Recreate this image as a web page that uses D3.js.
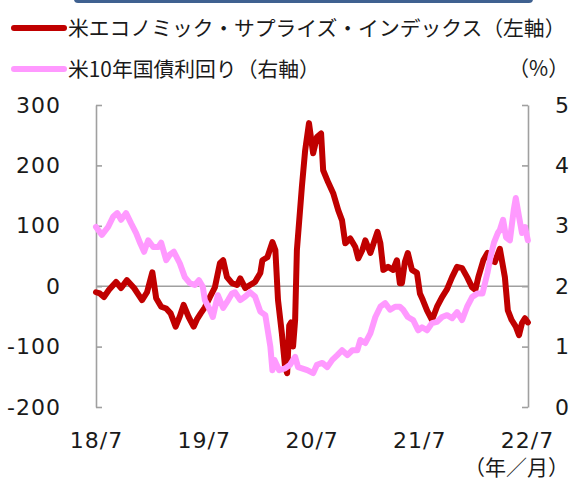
<!DOCTYPE html>
<html>
<head>
<meta charset="utf-8">
<script src="https://cdn.jsdelivr.net/npm/d3@7"></script>
<style>
  body { margin: 0; background: #fff; }
  svg text { fill: #1a1a1a; }
  .num { font-family: "DejaVu Sans", Verdana, sans-serif; font-size: 22px; letter-spacing: 1px; }
  .jp { font-family: "Noto Sans CJK JP", sans-serif; font-size: 20.8px; }
</style>
</head>
<body>
<div id="chart"></div>
<script>
// data
var redDates = [
  "2018-07-01","2018-07-14","2018-07-28","2018-08-14","2018-09-07","2018-09-24","2018-10-14","2018-11-07","2018-12-04","2018-12-21",
  "2019-01-08","2019-01-21","2019-02-07","2019-02-24","2019-03-11","2019-03-28","2019-04-11","2019-04-24","2019-05-11","2019-05-28",
  "2019-06-08","2019-06-21","2019-07-05","2019-07-22","2019-08-08","2019-08-25","2019-09-05","2019-09-18","2019-10-05","2019-10-22",
  "2019-11-02","2019-11-19","2019-12-05","2019-12-22","2020-01-09","2020-01-16","2020-02-02","2020-02-19","2020-02-29","2020-03-09",
  "2020-03-22","2020-04-02","2020-04-09","2020-04-16","2020-04-22","2020-04-29","2020-05-06","2020-05-12","2020-05-29","2020-06-09",
  "2020-06-22","2020-07-06","2020-07-19","2020-08-02","2020-08-09","2020-08-26","2020-09-12","2020-09-29","2020-10-12","2020-10-23",
  "2020-11-09","2020-11-26","2020-12-06","2020-12-20","2020-12-30","2021-01-16","2021-02-09","2021-02-19","2021-03-01","2021-03-17",
  "2021-04-03","2021-04-16","2021-04-26","2021-05-03","2021-05-13","2021-05-23","2021-06-06","2021-06-23","2021-07-03","2021-07-13",
  "2021-07-27","2021-08-13","2021-08-30","2021-09-16","2021-10-03","2021-10-20","2021-11-06","2021-11-23","2021-12-10","2021-12-27",
  "2022-01-07","2022-01-17","2022-02-03","2022-02-17","2022-02-27","2022-03-14","2022-03-31","2022-04-17","2022-04-27","2022-05-10",
  "2022-05-24","2022-06-04","2022-06-14","2022-06-24","2022-07-04"
];
var redValues = [
  -10, -12, -18, -6, 7, -3, 10, -3, -23, -10,
  23, -20, -34, -37, -45, -67, -50, -31, -51, -67,
  -55, -45, -35, -18, -2, 38, 43, 15, 5, 2,
  13, -3, 2, 7, 22, 43, 48, 73, 60, -23,
  -78, -134, -144, -65, -60, -100, -56, 60, 165, 225,
  270, 220, 247, 253, 192, 172, 154, 126, 109, 71,
  79, 65, 46, 60, 76, 55, 90, 71, 27, 32,
  27, 43, 5, 5, 40, 55, 27, 22, -12, -23,
  -40, -56, -34, -18, -5, 15, 32, 30, 15, -2,
  -6, 15, 43, 55, 43, 40, 62, 15, -40, -56,
  -67, -81, -61, -53, -60
];

var pinkDates = [
  "2018-07-01","2018-07-21","2018-08-11","2018-08-28","2018-09-11","2018-09-24","2018-10-11","2018-10-28","2018-11-14","2018-11-28",
  "2018-12-11","2018-12-25","2019-01-11","2019-01-28","2019-02-07","2019-02-24","2019-03-08","2019-03-22","2019-04-11","2019-04-28",
  "2019-05-15","2019-06-01","2019-06-15","2019-06-28","2019-07-05","2019-07-22","2019-08-01","2019-08-18","2019-09-05","2019-09-22",
  "2019-10-05","2019-10-15","2019-11-02","2019-11-19","2019-12-05","2019-12-22","2020-01-09","2020-01-26","2020-02-12","2020-02-19",
  "2020-02-26","2020-03-13","2020-04-02","2020-04-19","2020-05-06","2020-05-16","2020-05-29","2020-06-16","2020-07-06","2020-07-19",
  "2020-08-06","2020-08-23","2020-09-09","2020-09-26","2020-10-12","2020-10-30","2020-11-16","2020-12-03","2020-12-13","2020-12-30",
  "2021-01-16","2021-02-02","2021-02-19","2021-03-07","2021-03-24","2021-04-10","2021-04-26","2021-05-07","2021-05-23","2021-06-10",
  "2021-06-27","2021-07-10","2021-07-27","2021-08-13","2021-08-30","2021-09-16","2021-10-03","2021-10-20","2021-11-06","2021-11-23",
  "2021-12-10","2021-12-27","2022-01-14","2022-01-31","2022-02-17","2022-02-27","2022-03-11","2022-03-24","2022-03-31","2022-04-11",
  "2022-04-21","2022-05-04","2022-05-17","2022-05-24","2022-06-04","2022-06-14","2022-06-24","2022-07-04"
];
var pinkValues = [
  2.98, 2.85, 2.98, 3.15, 3.21, 3.10, 3.21, 3.04, 2.88, 2.71,
  2.57, 2.76, 2.65, 2.65, 2.72, 2.43, 2.52, 2.57, 2.38, 2.15,
  2.05, 2.02, 2.10, 1.99, 1.77, 1.61, 1.49, 1.85, 1.64, 1.77,
  1.88, 1.90, 1.77, 1.83, 1.90, 1.83, 1.58, 1.52, 1.00, 0.61,
  0.78, 0.61, 0.64, 0.70, 0.83, 0.66, 0.64, 0.61, 0.56, 0.70,
  0.73, 0.66, 0.78, 0.86, 0.94, 0.86, 0.94, 0.94, 1.11, 1.06,
  1.22, 1.49, 1.66, 1.72, 1.61, 1.66, 1.66, 1.61, 1.49, 1.44,
  1.27, 1.32, 1.27, 1.39, 1.41, 1.49, 1.52, 1.47, 1.57, 1.44,
  1.66, 1.82, 1.88, 1.88, 2.22, 2.48, 2.72, 2.88, 2.93, 3.10,
  2.81, 2.76, 3.26, 3.46, 3.15, 2.88, 2.98, 2.76
];

var xTicks = ["2018-07-01","2019-07-01","2020-07-01","2021-07-01","2022-07-01"];
var leftTicks = [-200, -100, 0, 100, 200, 300];
var rightTicks = [0, 1, 2, 3, 4, 5];

var legendLabels = ["米エコノミック・サプライズ・インデックス（左軸）", "米10年国債利回り（右軸）"];
var colors = ["#c00000", "#ff99ff"];

var w = 570, h = 488;
var parse = d3.timeParse("%Y-%m-%d");

var svg = d3.select("#chart").append("svg")
  .attr("width", w)
  .attr("height", h);

// cut-off title box at the top
svg.append("rect")
  .attr("x", 74).attr("y", -12)
  .attr("width", 459).attr("height", 15)
  .attr("rx", 4)
  .attr("fill", "#3f6190");

var x = d3.scaleTime()
  .domain([parse("2018-07-01"), parse("2022-07-01")])
  .range([96, 527]);
var yL = d3.scaleLinear().domain([-200, 300]).range([407, 105]);
var yR = d3.scaleLinear().domain([0, 5]).range([407, 105]);

var axisColor = "#a0a0a0";
var plain = function(d) { return String(d); };   // ascii hyphen, not U+2212

// left axis, ticks pointing inward
var gL = svg.append("g")
  .attr("transform", "translate(96,0)")
  .call(d3.axisLeft(yL).tickValues(leftTicks).tickFormat(plain).tickSizeInner(-6).tickSizeOuter(0).tickPadding(35));

var gR = svg.append("g")
  .attr("transform", "translate(528,0)")
  .call(d3.axisRight(yR).tickValues(rightTicks).tickFormat(plain).tickSizeInner(-6).tickSizeOuter(0).tickPadding(27));

[gL, gR].forEach(function(g) {
  g.attr("font-size", null).attr("font-family", null);
  g.selectAll("text").attr("class", "num");
  g.selectAll("line, path").attr("stroke", axisColor).attr("stroke-width", 1.6);
});

// zero line
svg.append("line")
  .attr("x1", 96).attr("x2", 528)
  .attr("y1", yL(0)).attr("y2", yL(0))
  .attr("stroke", axisColor)
  .attr("stroke-width", 1.6);

// x labels
var gX = svg.append("g")
  .attr("transform", "translate(0,407)")
  .call(d3.axisBottom(x).tickValues(xTicks.map(parse)).tickFormat(d3.timeFormat("%y/%-m")).tickSize(0).tickPadding(25));
gX.select(".domain").remove();
gX.attr("font-size", null).attr("font-family", null);
gX.selectAll("text").attr("class", "num");

var lineL = d3.line()
  .x(function(d) { return x(d.date); })
  .y(function(d) { return yL(d.value); });
var lineR = d3.line()
  .x(function(d) { return x(d.date); })
  .y(function(d) { return yR(d.value); });

var redData = redDates.map(function(d, i) { return {date: parse(d), value: redValues[i]}; });
var pinkData = pinkDates.map(function(d, i) { return {date: parse(d), value: pinkValues[i]}; });

svg.append("path")
  .datum(redData)
  .attr("d", lineL)
  .attr("fill", "none")
  .attr("stroke", colors[0])
  .attr("stroke-width", 6)
  .attr("stroke-linejoin", "round")
  .attr("stroke-linecap", "round");

svg.append("path")
  .datum(pinkData)
  .attr("d", lineR)
  .attr("fill", "none")
  .attr("stroke", colors[1])
  .attr("stroke-width", 6)
  .attr("stroke-linejoin", "round")
  .attr("stroke-linecap", "round");

// legend
var leg = svg.selectAll(".leg")
  .data(legendLabels)
  .enter().append("g")
  .attr("transform", function(d, i) { return "translate(0," + (28 + i * 41) + ")"; });
leg.append("line")
  .attr("x1", 14).attr("x2", 64)
  .attr("stroke", function(d, i) { return colors[i]; })
  .attr("stroke-width", 6)
  .attr("stroke-linecap", "round");
leg.append("text")
  .attr("class", "jp")
  .attr("x", 68)
  .attr("dy", "0.36em")
  .text(function(d) { return d; });

svg.append("text")
  .attr("class", "jp")
  .attr("x", 569).attr("y", 69)
  .attr("dy", "0.36em")
  .attr("text-anchor", "end")
  .text("（%）");

svg.append("text")
  .attr("class", "jp")
  .attr("x", 569).attr("y", 467)
  .attr("dy", "0.36em")
  .attr("text-anchor", "end")
  .style("font-size", "21px")
  .text("（年／月）");
</script>
</body>
</html>
